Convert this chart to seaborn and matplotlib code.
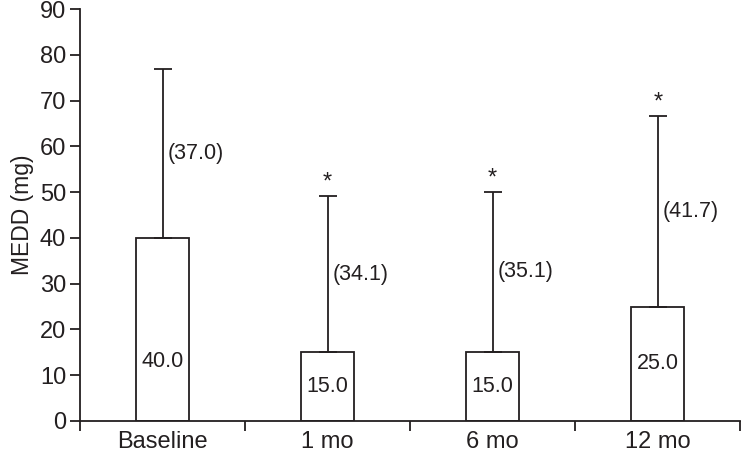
import numpy as np
import pandas as pd
import matplotlib
matplotlib.use("Agg")
import matplotlib.pyplot as plt
import seaborn as sns

# data
periods = ["Baseline", "1 mo", "6 mo", "12 mo"]
medd_mean = [40.0, 15.0, 15.0, 25.0]
medd_sd = [37.0, 34.1, 35.1, 41.7]
significant = [False, True, True, True]

df = pd.DataFrame({"period": periods, "medd": medd_mean, "sd": medd_sd})

sns.set_style("ticks")
plt.rcParams["font.family"] = ["Liberation Sans", "DejaVu Sans"]
ink = "#231f20"

fig = plt.figure(figsize=(7.41, 4.58), dpi=100)
ax = fig.add_axes([0.108, 0.081, 0.891, 0.899])

sns.barplot(data=df, x="period", y="medd", color="white", edgecolor=ink,
            linewidth=1.3, width=0.32, errorbar=None, ax=ax)

x = np.arange(len(periods))
ax.errorbar(x, df["medd"], yerr=[np.zeros(len(x)), df["sd"]], fmt="none",
            ecolor=ink, elinewidth=1.3, capsize=6.5, capthick=1.3)

for i, row in df.iterrows():
    # mean inside the bar
    ax.text(i, min(row["medd"] / 2, 13), f"{row['medd']:.1f}", ha="center", va="center",
            fontsize=15.5, color=ink)
    # SD beside the error bar
    ax.text(i + 0.03, row["medd"] + row["sd"] / 2, f"({row['sd']:.1f})", ha="left", va="center",
            fontsize=15.5, color=ink)
    if significant[i]:
        ax.text(i, row["medd"] + row["sd"] + 0.5, "*", ha="center", va="bottom",
                fontsize=17, color=ink)

ax.set_xlim(-0.5, len(periods) - 0.5)
ax.set_ylim(0, 90)
ax.set_yticks(range(0, 91, 10))
ax.set_xticks(np.arange(-0.5, len(periods), 1.0))
ax.set_xticklabels([])
ax.set_xticks(x, minor=True)
ax.set_xticklabels(periods, minor=True)
ax.tick_params(axis="x", which="minor", length=0, labelsize=17, pad=7, colors=ink)
ax.tick_params(axis="x", which="major", length=7, width=1.3, color=ink)
ax.tick_params(axis="y", length=7, width=1.3, labelsize=17, pad=3, colors=ink)
ax.set_xlabel("")
ax.set_ylabel("MEDD (mg)", fontsize=16.5, color=ink, labelpad=4)

sns.despine(ax=ax)
for s in ["left", "bottom"]:
    ax.spines[s].set_linewidth(1.3)
    ax.spines[s].set_color(ink)

fig.savefig("out.png", dpi=100)
